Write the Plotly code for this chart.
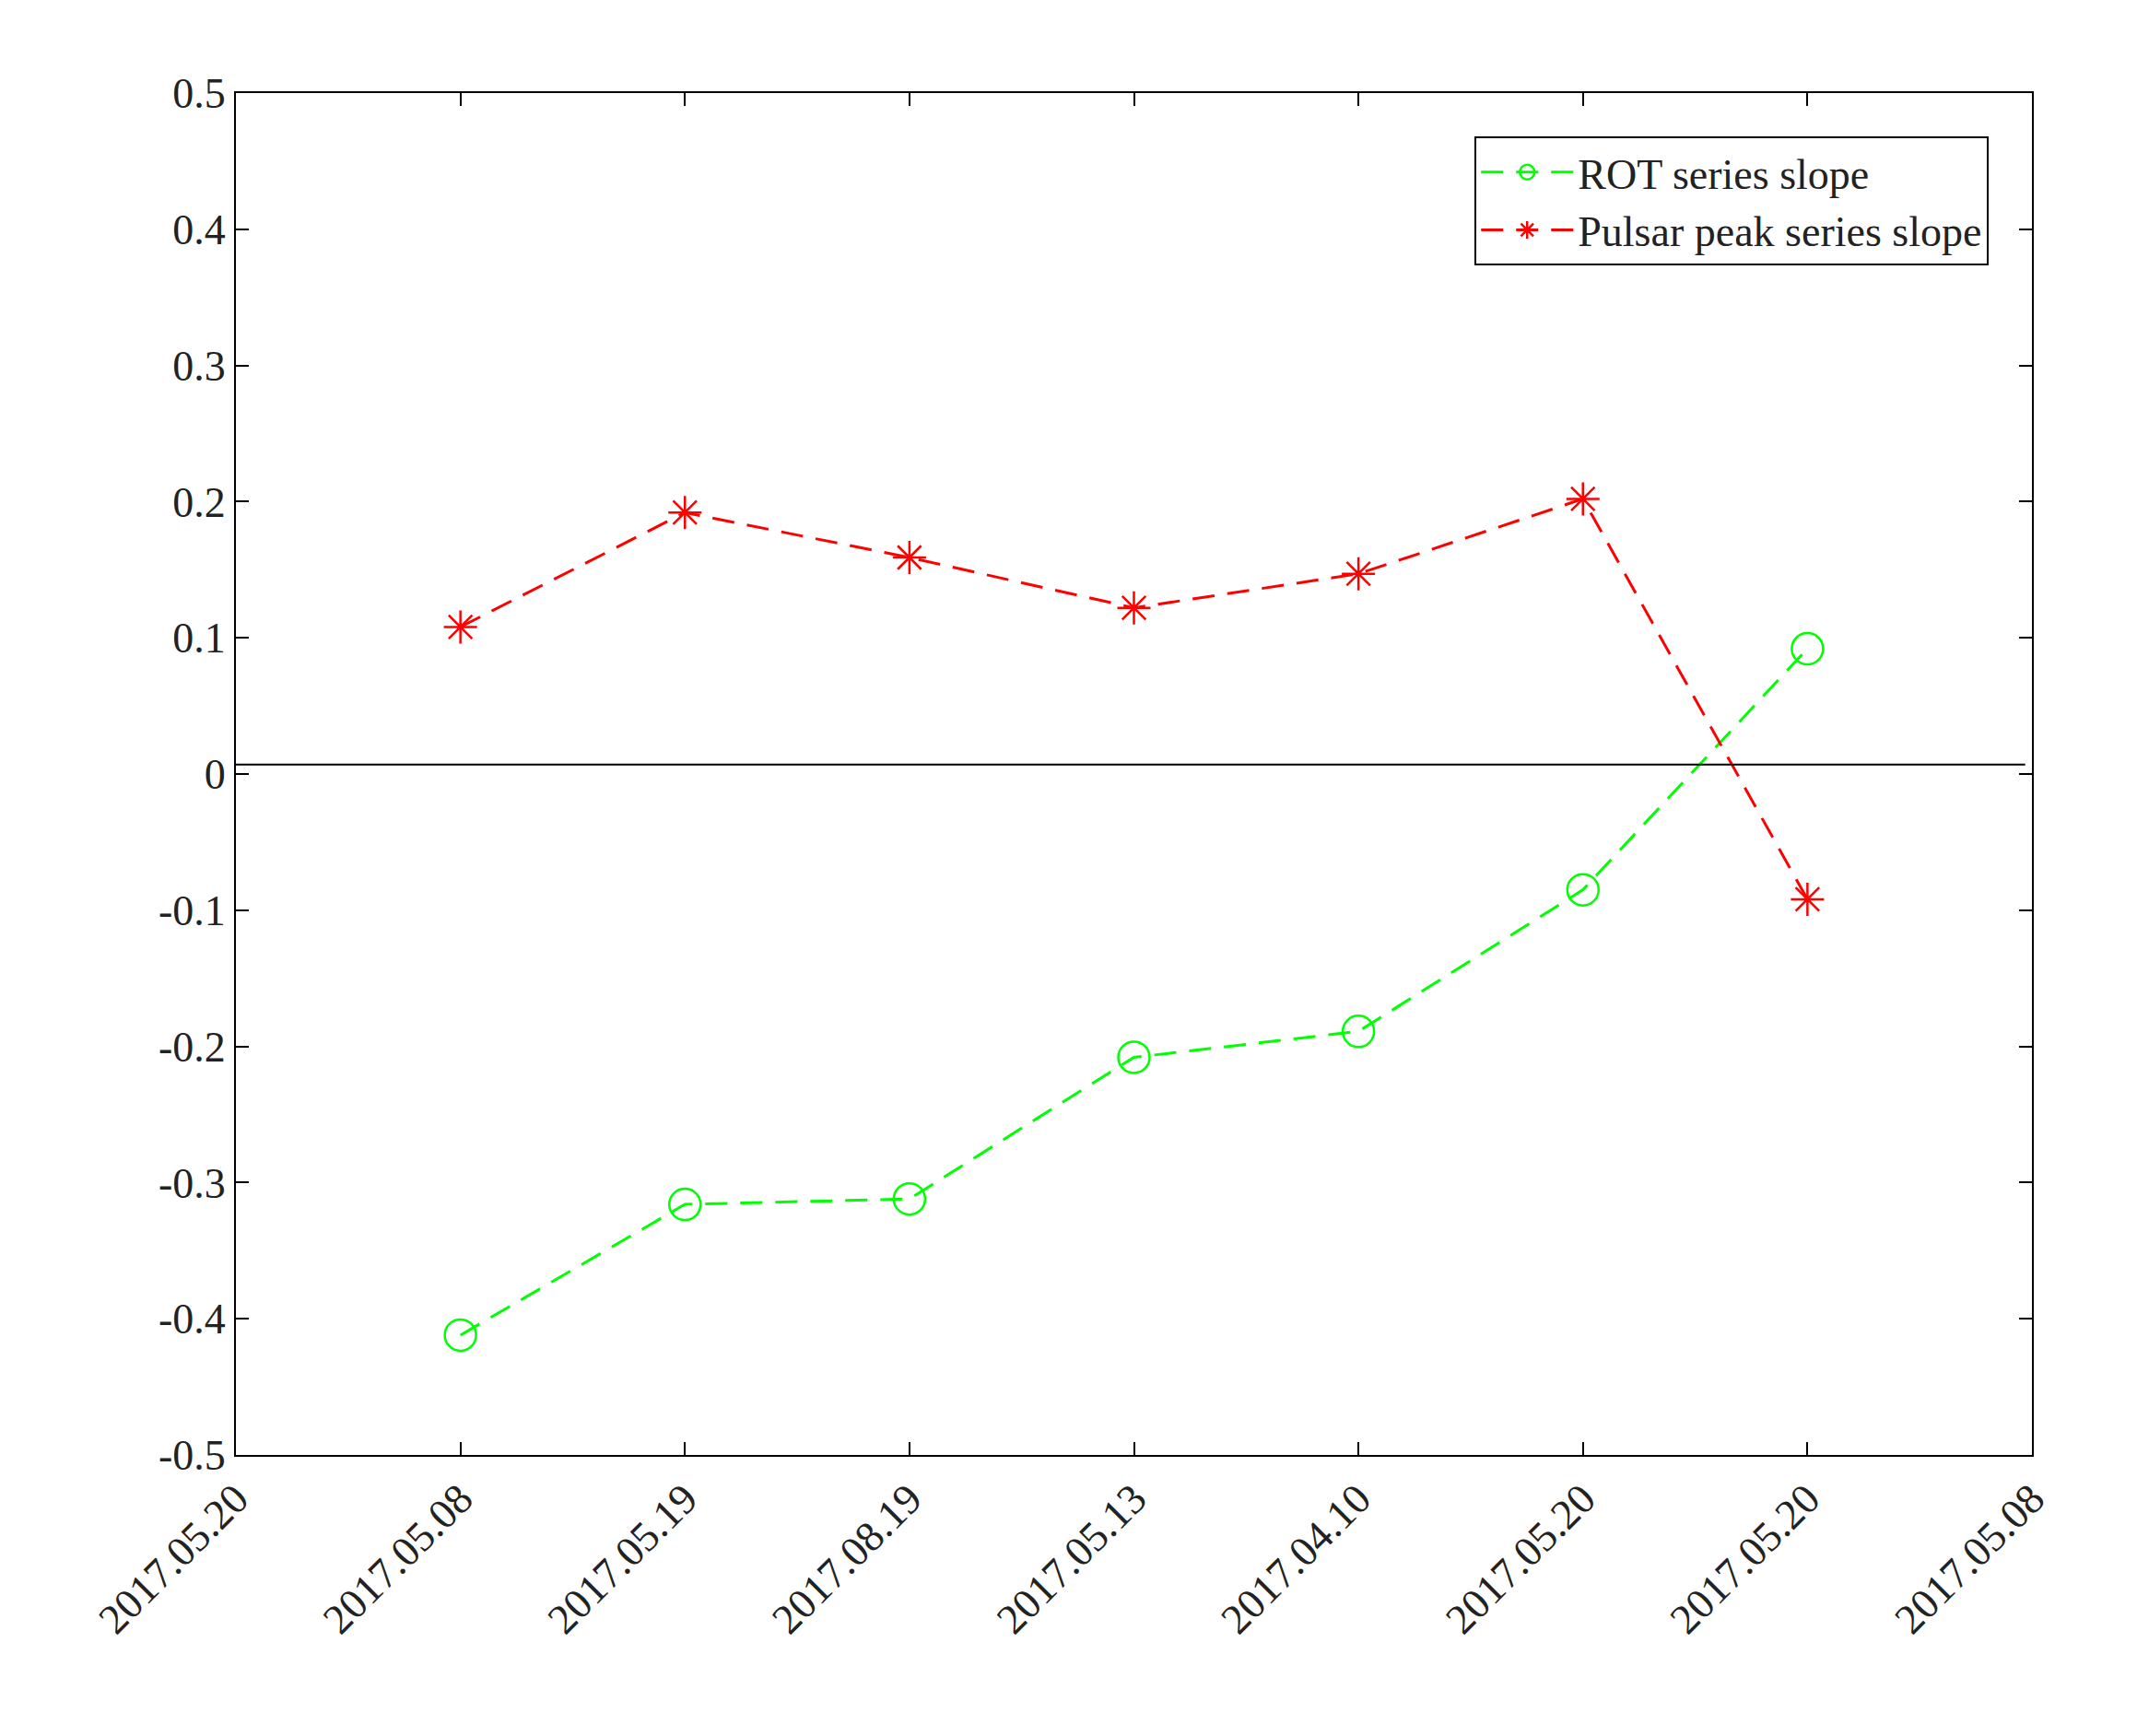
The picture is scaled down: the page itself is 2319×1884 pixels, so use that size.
import plotly.graph_objects as go

tick_labels = ["2017.05.20", "2017.05.08", "2017.05.19", "2017.08.19", "2017.05.13",
               "2017.04.10", "2017.05.20", "2017.05.20", "2017.05.08"]
y_ticks = [-0.5, -0.4, -0.3, -0.2, -0.1, 0, 0.1, 0.2, 0.3, 0.4, 0.5]
y_labels = ["-0.5", "-0.4", "-0.3", "-0.2", "-0.1", "0", "0.1", "0.2", "0.3", "0.4", "0.5"]
x_pos = [1, 2, 3, 4, 5, 6, 7]
rot_slope = [-0.412, -0.316, -0.312, -0.208, -0.189, -0.085, 0.092]
pulsar_slope = [0.108, 0.192, 0.159, 0.122, 0.147, 0.202, -0.092]
zero_level = 0.007

fig = go.Figure()
fig.add_trace(go.Scatter(
    x=x_pos, y=rot_slope, mode="lines+markers", name="ROT series slope",
    line=dict(color="#00ff00", dash="24px,14px", width=3),
    marker=dict(symbol="circle-open", size=34, color="#00ff00", line=dict(width=2.5))))
fig.add_trace(go.Scatter(
    x=x_pos, y=pulsar_slope, mode="lines+markers", name="Pulsar peak series slope",
    line=dict(color="#ff0000", dash="24px,14px", width=3),
    marker=dict(symbol="asterisk-open", size=30, color="#ff0000", line=dict(width=2.5, color="#ff0000"))))
fig.add_trace(go.Scatter(
    x=[0, 7.97], y=[zero_level, zero_level], mode="lines", showlegend=False,
    line=dict(color="black", width=2)))

axis_common = dict(showline=True, linecolor="black", linewidth=2, mirror="ticks",
                   ticks="inside", ticklen=14, tickwidth=2, tickcolor="black",
                   showgrid=False, zeroline=False,
                   tickfont=dict(family="Liberation Serif", size=46, color="#222"))
fig.update_xaxes(range=[0, 8], tickvals=list(range(9)), ticktext=tick_labels,
                 tickangle=-45, **axis_common)
fig.update_yaxes(range=[-0.5, 0.5], tickvals=y_ticks, ticktext=y_labels, **axis_common)

fig.update_layout(
    width=2319, height=1884,
    paper_bgcolor="white", plot_bgcolor="white",
    margin=dict(l=248, r=122, t=93, b=313),
    legend=dict(x=0.976, y=0.968, xanchor="right", yanchor="top", itemwidth=100,
                bordercolor="black", borderwidth=2, bgcolor="white",
                font=dict(family="Liberation Serif", size=46, color="#222")),
)
fig.write_html("out.html")
